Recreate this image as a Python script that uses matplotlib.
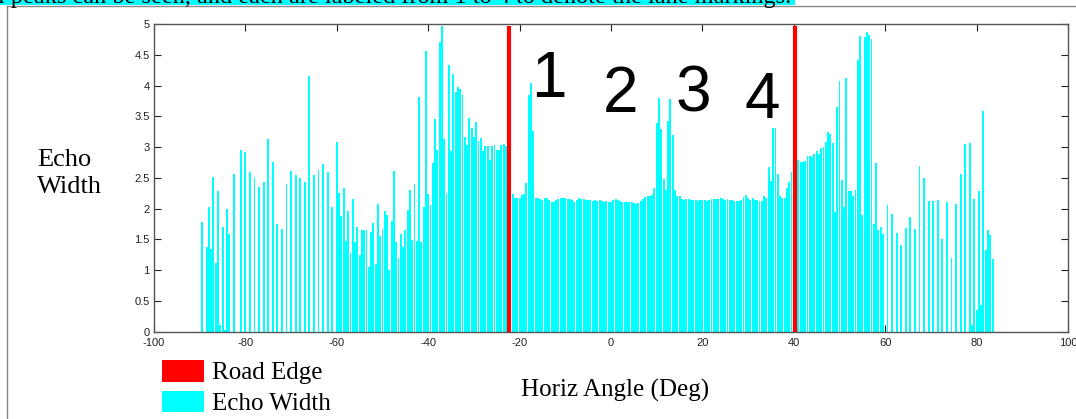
import numpy as np
import matplotlib
matplotlib.use("Agg")
import matplotlib.pyplot as plt
from matplotlib.patches import Patch, Rectangle
from matplotlib.lines import Line2D
from matplotlib.ticker import FormatStrFormatter, MultipleLocator

plt.rcParams["axes.unicode_minus"] = False

step = 0.5  # scan resolution in degrees

# echo width per scan segment (first angle of each segment, then values)
far_left_start = -89.5
far_left = [1.79, 0, 1.38, 2.03, 1.34, 2.52, 1.12, 2.28, 0.11, 1.70,
            0.03, 2.00, 1.59, 0, 2.56, 0, 0, 2.95, 0, 2.92,
            0, 2.60, 0, 2.52, 0, 2.35, 0, 2.43, 0, 3.13,
            0, 2.76, 0, 1.75, 0, 1.67, 0, 2.40, 0, 2.61,
            0, 2.55, 0, 2.50, 0, 2.44, 0, 4.16, 0, 2.54,
            0, 2.63, 0, 2.72, 0, 2.60, 0, 2.02, 0]

left_curb_start = -60.0
left_curb = [3.08, 2.25, 1.88, 2.33, 1.48, 1.96, 1.28, 2.16, 1.45, 1.70,
             1.25, 1.65, 1.66, 1.65, 1.05, 1.62, 1.76, 1.10, 2.08, 1.56,
             1.67, 1.96, 1.89, 1.00, 1.80, 2.61, 1.45, 1.20, 1.58, 1.38,
             1.65, 1.98, 2.30, 1.49, 2.40, 1.48, 3.81, 1.45, 2.02, 4.56,
             2.23, 2.06, 2.74, 3.46, 2.95, 4.71, 4.97, 3.13, 2.25, 4.34,
             2.93, 4.19, 3.90, 3.98, 3.95, 3.85, 3.17, 3.04, 3.48, 3.31,
             3.17, 3.41, 3.10, 3.14, 2.93, 3.02, 3.02, 2.79, 3.02, 3.04,
             2.96, 2.96, 3.04, 3.05, 3.02, 2.85]

road_start = -22.0
road = [2.20, 2.23, 2.17, 2.17, 2.17, 2.22, 2.24, 2.41, 3.85, 4.04,
        3.26, 2.18, 2.17, 2.15, 2.14, 2.18, 2.17, 2.14, 2.11, 2.10,
        2.14, 2.16, 2.17, 2.18, 2.17, 2.16, 2.15, 2.14, 2.11, 2.14,
        2.17, 2.16, 2.16, 2.14, 2.14, 2.14, 2.13, 2.14, 2.12, 2.14,
        2.13, 2.11, 2.12, 2.11, 2.10, 2.14, 2.15, 2.14, 2.12, 2.11,
        2.11, 2.10, 2.10, 2.10, 2.09, 2.07, 2.09, 2.13, 2.16, 2.19,
        2.20, 2.20, 2.22, 2.33, 3.39, 3.79, 3.30, 2.48, 2.30, 3.42,
        3.78, 3.20, 2.30, 2.21, 2.20, 2.15, 2.14, 2.16, 2.15, 2.14,
        2.14, 2.14, 2.13, 2.14, 2.14, 2.14, 2.13, 2.14, 2.15, 2.16,
        2.16, 2.15, 2.17, 2.16, 2.14, 2.15, 2.14, 2.14, 2.13, 2.12,
        2.12, 2.14, 2.19, 2.22, 2.18, 2.14, 2.17, 2.14, 2.14, 2.13,
        2.12, 2.20, 2.18, 2.68, 2.45, 3.31, 3.31, 2.56, 2.20, 2.18,
        2.17, 2.33, 2.44, 2.60]

right_curb_start = 40.0
right_curb = [2.75, 2.82, 2.79, 2.75, 2.75, 2.77, 2.85, 2.86, 2.84, 2.88,
              2.94, 2.88, 2.98, 3.00, 3.09, 3.25, 3.22, 3.06, 1.95, 3.65,
              4.08, 2.46, 2.02, 4.12, 2.29, 2.28, 2.21, 2.30, 4.41, 4.80,
              1.90, 4.79, 4.87, 4.82, 4.75, 1.75, 2.74, 1.66, 1.70, 1.59]

far_right_start = 60.0
far_right = [0, 2.06, 0, 1.92, 0, 1.60, 0, 1.41, 0, 1.68,
             0, 1.87, 0, 1.67, 0, 2.69, 0, 2.50, 0, 2.13,
             0, 2.13, 0, 2.14, 0, 1.50, 0, 2.11, 0, 1.20,
             0, 2.08, 0, 2.56, 0, 3.05, 0, 3.07, 0.11, 2.16,
             0.36, 2.28, 0.43, 3.59, 1.32, 1.65, 1.57, 1.18]

road_edges = [-22.3, 40.2]

# lane marking numbers, placed by their baseline
lane_labels = ["1", "2", "3", "4"]
lane_x = [-13.6, 2.1, 18.0, 33.1]
lane_y = [3.82, 3.57, 3.58, 3.47]

caption = "l peaks can be seen, and each are labeled from 1 to 4 to denote the lane markings."

segments = [(far_left_start, far_left), (left_curb_start, left_curb),
            (road_start, road), (right_curb_start, right_curb),
            (far_right_start, far_right)]
angles = np.concatenate([s + step * np.arange(len(v)) for s, v in segments])
widths = np.concatenate([np.array(v, dtype=float) for s, v in segments])

serif = "Liberation Serif"
sans = "Liberation Sans"
W, H = 1076, 419

fig = plt.figure(figsize=(W / 100, H / 100), dpi=100)
ax = fig.add_axes([154 / W, 1 - 331.7 / H, 914 / W, 307.7 / H])

ax.bar(angles, widths, width=0.42, color="#00ffff", linewidth=0, zorder=2)
ax.vlines(road_edges, 0, 4.96, colors="#ff0000", linewidth=3.0, zorder=3)

for lbl, x, y in zip(lane_labels, lane_x, lane_y):
    ax.text(x, y, lbl, fontsize=46, family=sans, ha="center", va="baseline", zorder=4)

ax.set_xlim(-100, 100)
ax.set_ylim(0, 5)
ax.xaxis.set_major_locator(MultipleLocator(20))
ax.yaxis.set_major_locator(MultipleLocator(0.5))
ax.yaxis.set_major_formatter(FormatStrFormatter("%g"))
ax.tick_params(direction="in", length=5, width=0.8, top=True, right=True,
               labelsize=8, colors="#222222")
ax.tick_params(axis="x", pad=4.5)
ax.tick_params(axis="y", pad=3)
for t in ax.get_xticklabels() + ax.get_yticklabels():
    t.set_family(sans)
for sp in ax.spines.values():
    sp.set_color("#555555")
    sp.set_linewidth(1.0)

ax.set_ylabel("Echo\nWidth", rotation=0, fontsize=19, family=serif,
              ha="left", va="center", linespacing=1.3)
ax.yaxis.set_label_coords(-0.128, 0.515)
ax.set_xlabel("Horiz Angle (Deg)", fontsize=18, family=serif, va="center")
ax.xaxis.set_label_coords(0.504, -0.19)

handles = [Patch(facecolor="#ff0000", edgecolor="none"),
           Patch(facecolor="#00ffff", edgecolor="none")]
fig.legend(handles, ["Road Edge", "Echo Width"], loc="upper left",
           bbox_to_anchor=(162 / W, 1 - 360 / H), frameon=False,
           prop={"family": serif, "size": 18}, handlelength=1.68,
           handleheight=0.95, handletextpad=0.3, labelspacing=0.25,
           borderpad=0, borderaxespad=0)

# page frame and the clipped, highlighted caption line above the figure
fig.add_artist(Line2D([7 / W, 7 / W], [0, 1 - 6 / H], color="#888888",
                      linewidth=1.0, transform=fig.transFigure))
fig.add_artist(Line2D([7 / W, 1], [1 - 6 / H, 1 - 6 / H], color="#888888",
                      linewidth=1.0, transform=fig.transFigure))
fig.add_artist(Rectangle((0, 1 - 5 / H), 795 / W, 5 / H, facecolor="#00ffff",
                         edgecolor="none", transform=fig.transFigure, zorder=0))
fig.text(-2 / W, 1 - 3.5 / H, caption, fontsize=17.5, family=serif, ha="left",
         va="baseline")

fig.savefig("out.png", dpi=100)
